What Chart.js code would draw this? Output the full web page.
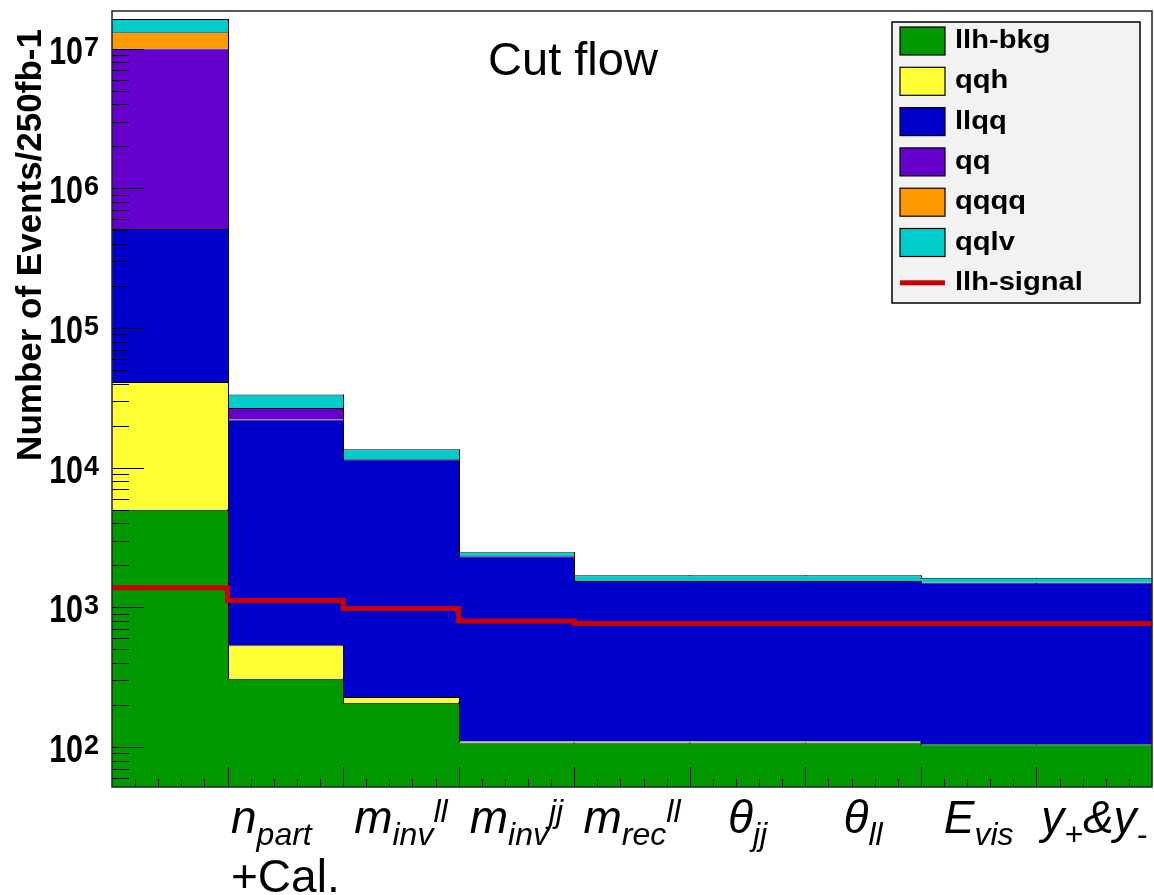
<!DOCTYPE html>
<html><head><meta charset="utf-8">
<script src="https://cdn.jsdelivr.net/npm/chart.js@4.4.1/dist/chart.umd.min.js"></script>
<style>html,body{margin:0;padding:0;background:#fff}canvas{display:block}</style>
</head><body>
<canvas id="c" width="1154" height="895"></canvas>
<script>
// ---- data ----
const categories = ['presel', 'npart', 'minvll', 'minvjj', 'mrecll', 'thetajj', 'thetall', 'Evis', 'ypm'];
const llhBkg  = [5000, 309, 208, 108, 108, 108, 108, 105, 105];
const qqh     = [36000, 226, 20, 2, 2, 2, 2, 0, 0];
const llqq    = [470000, 21600, 11250, 2210, 1435, 1435, 1435, 1400, 1400];
const qq      = [9490000, 4660, 0, 0, 0, 0, 0, 0, 0];
const qqqq    = [3080000, 0, 0, 0, 0, 0, 0, 0, 0];
const qqlv    = [3210000, 6600, 2060, 160, 152, 152, 152, 127, 127];
const llhSignal = [1385, 1121, 982, 798, 766, 766, 766, 766, 766];
const seriesNames = ['llh-bkg', 'qqh', 'llqq', 'qq', 'qqqq', 'qqlv', 'llh-signal'];
// tick labels as text segments: [text, 'main'|'sub'|'sup']
const tickLabels = [
  [],
  [['n','main'],['part','sub']],
  [['m','main'],['inv','sub'],['ll','sup']],
  [['m','main'],['inv','sub'],['jj','sup']],
  [['m','main'],['rec','sub'],['ll','sup']],
  [['θ','main'],['jj','sub']],
  [['θ','main'],['ll','sub']],
  [['E','main'],['vis','sub']],
  [['y','main'],['+','sub'],['&y','main'],['-','sub']]
];
const tickLabels2 = ['', '+Cal.', '', '', '', '', '', '', ''];
const yExponents = [2, 3, 4, 5, 6, 7];
const titleText = 'Cut flow';
const yTitle = 'Number of Events/250fb-1';

// ---- styles ----
const colors = ['#009900', '#ffff33', '#0000cc', '#6600cc', '#ff9900', '#00cccc', '#cc0000'];
const FONT = '"Liberation Sans", Arial, sans-serif';
const barSeries = [llhBkg, qqh, llqq, qq, qqqq, qqlv];

function drawText(ctx, txt, x, y, font, sx, align) {
  ctx.save();
  ctx.font = font;
  ctx.textAlign = align || 'left';
  ctx.textBaseline = 'alphabetic';
  ctx.translate(x, y);
  ctx.scale(sx || 1, 1);
  ctx.fillText(txt, 0, 0);
  ctx.restore();
}

const decor = {
  id: 'decor',
  beforeDatasetDraw(chart, args) {
    if (chart.data.datasets[args.index].type !== 'line') return;
    // histogram outline steps between neighbouring bins
    const ctx = chart.ctx, ys = chart.scales.y, xs = chart.scales.x2;
    ctx.save();
    ctx.strokeStyle = '#000';
    ctx.lineWidth = 1;
    const cum = categories.map(() => 0);
    barSeries.forEach(s => {
      s.forEach((v, i) => { cum[i] += v; });
      for (let i = 0; i < categories.length - 1; i++) {
        if (Math.abs(cum[i] - cum[i + 1]) < 1e-9) continue;
        const px = Math.round(xs.getPixelForValue(i + 1)) + 0.5;
        ctx.beginPath();
        ctx.moveTo(px, ys.getPixelForValue(cum[i]));
        ctx.lineTo(px, ys.getPixelForValue(cum[i + 1]));
        ctx.stroke();
      }
    });
    ctx.restore();
  },
  afterDatasetsDraw(chart) {
    const ctx = chart.ctx, a = chart.chartArea;
    const ys = chart.scales.y, xs = chart.scales.x2;
    ctx.save();
    ctx.strokeStyle = '#000';
    ctx.lineWidth = 1;
    // y ticks
    for (let e = 1; e <= 8; e++) {
      for (let m = 1; m <= 9; m++) {
        const v = m * Math.pow(10, e);
        if (v < ys.min || v > ys.max) continue;
        const py = Math.round(ys.getPixelForValue(v)) + 0.5;
        const len = m === 1 ? 32 : 17;
        ctx.beginPath(); ctx.moveTo(a.left, py); ctx.lineTo(a.left + len, py); ctx.stroke();
      }
    }
    // x ticks
    for (let i = 0; i < categories.length; i++) {
      for (let k = 0; k < 5; k++) {
        const v = i + k / 5;
        if (v <= 0) continue;
        const px = Math.round(xs.getPixelForValue(v)) + 0.5;
        const len = k === 0 ? 20 : 8;
        ctx.beginPath(); ctx.moveTo(px, a.bottom); ctx.lineTo(px, a.bottom - len); ctx.stroke();
      }
    }
    // frame
    ctx.strokeStyle = '#222';
    ctx.lineWidth = 1.5;
    ctx.strokeRect(a.left, a.top, a.right - a.left, a.bottom - a.top);
    ctx.restore();
  },
  afterDraw(chart) {
    const ctx = chart.ctx;
    const ys = chart.scales.y, xc = chart.scales.x;
    ctx.save();
    ctx.fillStyle = '#000';
    // y tick labels
    yExponents.forEach(e => {
      const py = ys.getPixelForValue(Math.pow(10, e));
      drawText(ctx, '10', 83, py + 15, 'bold 38px ' + FONT, 0.8, 'right');
      drawText(ctx, String(e), 84, py + 7, 'bold 27px ' + FONT, 1, 'left');
    });
    // y title
    ctx.save();
    ctx.translate(41, 245);
    ctx.rotate(-Math.PI / 2);
    ctx.font = 'bold 35px ' + FONT;
    ctx.textAlign = 'center';
    ctx.fillText(yTitle, 0, 0);
    ctx.restore();
    // x labels
    const fMain = 'italic 46px ' + FONT, fSmall = 'italic 32px ' + FONT, fLine2 = '46px ' + FONT;
    const base = 833;
    tickLabels.forEach((segs, i) => {
      if (!segs.length && !tickLabels2[i]) return;
      let w = 0;
      segs.forEach(s => { ctx.font = s[1] === 'main' ? fMain : fSmall; w += ctx.measureText(s[0]).width; });
      ctx.font = fLine2;
      const w2 = tickLabels2[i] ? ctx.measureText(tickLabels2[i]).width : 0;
      const cx = xc.getPixelForValue(i);
      let x = cx - Math.max(w, w2) / 2;
      const x0 = x;
      segs.forEach(s => {
        const f = s[1] === 'main' ? fMain : fSmall;
        const y = s[1] === 'sub' ? base + 12 : (s[1] === 'sup' ? base - 11 : base);
        ctx.font = f; ctx.textAlign = 'left'; ctx.textBaseline = 'alphabetic';
        ctx.fillText(s[0], x, y);
        x += ctx.measureText(s[0]).width;
      });
      if (tickLabels2[i]) { ctx.font = fLine2; ctx.fillText(tickLabels2[i], x0, 892); }
    });
    // title
    drawText(ctx, titleText, 573, 75, '47px ' + FONT, 1, 'center');
    // legend
    const L = {x: 892, y: 22, w: 248, h: 281};
    ctx.fillStyle = '#f2f2f2';
    ctx.fillRect(L.x, L.y, L.w, L.h);
    ctx.strokeStyle = '#000'; ctx.lineWidth = 1.5;
    ctx.strokeRect(L.x, L.y, L.w, L.h);
    chart.data.datasets.forEach((ds, k) => {
      const cy = 41 + k * 40.3;
      if (ds.type === 'line') {
        ctx.fillStyle = ds.borderColor;
        ctx.fillRect(900, cy - 2.5, 45, 5);
      } else {
        ctx.fillStyle = ds.backgroundColor;
        ctx.fillRect(900, cy - 14, 45, 28);
        ctx.strokeStyle = '#000'; ctx.lineWidth = 1.2;
        ctx.strokeRect(900, cy - 14, 45, 28);
      }
      ctx.fillStyle = '#000';
      drawText(ctx, ds.label, 955, cy + 7, 'bold 26px ' + FONT, 1.12, 'left');
    });
    ctx.restore();
  }
};

const datasets = barSeries.map((d, k) => ({
  type: 'bar',
  label: seriesNames[k],
  data: d,
  backgroundColor: colors[k],
  borderColor: '#000',
  borderWidth: { top: 1, left: 0, right: 0, bottom: 0 },
  borderSkipped: false,
  barPercentage: 1.012,
  categoryPercentage: 1,
  inflateAmount: 0,
  grouped: false,
  xAxisID: 'x',
  yAxisID: 'y',
  stack: 'bkg',
  order: 0
}));
const sigPoints = llhSignal.map((v, i) => ({x: i, y: v}));
sigPoints.push({x: llhSignal.length, y: llhSignal[llhSignal.length - 1]});
datasets.push({
  type: 'line',
  label: seriesNames[6],
  data: sigPoints,
  borderColor: colors[6],
  backgroundColor: colors[6],
  borderWidth: 5,
  pointRadius: 0,
  stepped: true,
  fill: false,
  xAxisID: 'x2',
  yAxisID: 'y',
  stack: 'sig',
  order: -1
});

new Chart(document.getElementById('c'), {
  data: { labels: categories, datasets },
  options: {
    responsive: false,
    animation: false,
    devicePixelRatio: 1,
    layout: { padding: { left: 112, right: 2, top: 11, bottom: 108 } },
    plugins: { legend: { display: false }, tooltip: { enabled: false }, title: { display: false } },
    scales: {
      x: { type: 'category', stacked: true, display: false, offset: true, grid: { display: false } },
      x2: { type: 'linear', min: 0, max: categories.length, display: false },
      y: { type: 'logarithmic', stacked: true, min: 51.8, max: 1.858e7, display: false }
    }
  },
  plugins: [decor]
});
</script>
</body></html>
